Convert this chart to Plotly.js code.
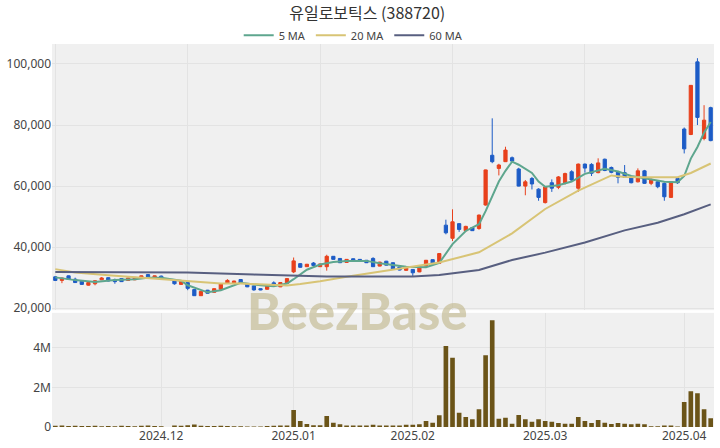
<!DOCTYPE html>
<html>
<head>
<meta charset="utf-8">
<script src="https://cdn.plot.ly/plotly-3.0.1.min.js"></script>
<style>html,body{margin:0;padding:0;background:#fff;}#chart{width:720px;height:448px;}</style>
</head>
<body>
<div id="chart"></div>
<script>
const dates = [
"2024-11-08","2024-11-11","2024-11-12","2024-11-13","2024-11-14","2024-11-15","2024-11-18","2024-11-19","2024-11-20","2024-11-21",
"2024-11-22","2024-11-25","2024-11-26","2024-11-27","2024-11-28","2024-11-29","2024-12-02","2024-12-03","2024-12-04","2024-12-05",
"2024-12-06","2024-12-09","2024-12-10","2024-12-11","2024-12-12","2024-12-13","2024-12-16","2024-12-17","2024-12-18","2024-12-19",
"2024-12-20","2024-12-23","2024-12-24","2024-12-26","2024-12-27","2024-12-30","2025-01-02","2025-01-03","2025-01-06","2025-01-07",
"2025-01-08","2025-01-09","2025-01-10","2025-01-13","2025-01-14","2025-01-15","2025-01-16","2025-01-17","2025-01-20","2025-01-21",
"2025-01-22","2025-01-23","2025-01-24","2025-01-31","2025-02-03","2025-02-04","2025-02-05","2025-02-06","2025-02-07","2025-02-10",
"2025-02-11","2025-02-12","2025-02-13","2025-02-14","2025-02-17","2025-02-18","2025-02-19","2025-02-20","2025-02-21","2025-02-24",
"2025-02-25","2025-02-26","2025-02-27","2025-02-28","2025-03-03","2025-03-04","2025-03-05","2025-03-06","2025-03-07","2025-03-10",
"2025-03-11","2025-03-12","2025-03-13","2025-03-14","2025-03-17","2025-03-18","2025-03-19","2025-03-20","2025-03-21","2025-03-24",
"2025-03-25","2025-03-26","2025-03-27","2025-03-28","2025-03-31","2025-04-01","2025-04-02","2025-04-03","2025-04-04","2025-04-07"];

const openP = [30270,29100,30600,29500,28850,27550,28000,29300,30000,29300,
29700,29100,29300,29750,31000,29800,30500,null,29000,27800,
28400,26100,24100,25900,25200,26200,28100,28200,29400,28100,
27300,26400,26200,28300,27000,28100,31900,34600,33600,34800,
33600,33600,37000,36300,35000,36200,36000,35700,36300,33800,
35400,34900,33500,32400,32700,31900,33800,35900,34700,47200,
42900,47700,45400,46400,46100,53800,70100,65800,68000,69300,
65600,60000,62500,59000,54600,61100,59600,60900,64700,59300,
67200,67100,64400,68800,66100,64700,64400,63000,61400,65000,
60900,61400,60900,56300,62500,78700,76900,100700,75600,85700];
const highP = [30500,30000,30700,30000,28900,28500,29100,30200,30100,29700,
29800,30000,30200,30700,31200,30700,30700,null,29100,28900,
28500,26200,25600,26000,26500,28100,29500,29000,29500,28200,
27400,26500,27300,28800,28500,29800,36600,34800,34500,35100,
34600,37500,37100,36400,36100,36300,36100,35800,36700,35200,
35500,35000,33600,33300,32800,33800,35800,36000,38000,49000,
52400,47900,47000,46500,50700,65400,82200,67300,72900,69700,
66000,62000,63000,59300,59900,62200,63300,64400,65200,67400,
67400,67500,69100,69000,66400,65000,66900,63300,65800,65300,
62500,62000,61200,61600,62800,79200,93100,101900,86500,86000];
const lowP = [28900,28200,29300,28300,27700,27400,27500,29200,28800,28000,
28600,29000,29200,29700,29900,29700,29400,null,27700,27700,
25900,24000,24000,24800,25100,26100,28000,28100,28100,26900,
25700,25900,26100,27400,26900,28000,31500,33300,33500,33900,
33500,32300,35900,34800,34900,35300,35300,34800,33500,33700,
34000,32600,32400,32300,30500,31800,33700,34400,34600,44200,
42000,45000,45000,45300,45700,53600,67500,63500,67900,67900,
59900,57000,58900,55200,54300,58100,59000,60500,61500,58100,
64400,63300,64200,64900,64200,60900,62700,60900,61200,60700,
60300,59300,55200,56100,60700,70700,76700,80000,75000,74700];
const closeP = [29090,29900,29400,28400,27800,28400,29000,29900,28900,28700,
28700,29900,30100,30600,30000,30600,29500,null,28000,28850,
26500,24100,25500,24900,26400,28000,29100,28900,28200,27000,
26000,26000,27200,27500,28400,29700,35500,33400,34400,34000,
34500,37000,36000,34900,36000,35400,35400,34900,33600,35100,
34100,32700,32500,33200,31600,33700,35700,34500,37900,44700,
48300,45800,46800,45400,50500,65300,68000,66900,71800,68200,
60000,61400,60700,56300,59700,59300,63000,64100,62000,67200,
65900,64200,67600,65100,64500,62900,62900,61100,65000,60900,
62200,59800,56500,61400,61100,72200,93000,82500,81600,74900];
const volume = [60000,70000,50000,60000,50000,50000,60000,40000,50000,40000,
60000,50000,40000,60000,70000,50000,40000,null,70000,60000,
90000,130000,60000,50000,50000,60000,50000,40000,40000,30000,
30000,30000,50000,60000,70000,70000,860000,300000,150000,90000,
90000,560000,220000,140000,80000,70000,70000,80000,110000,80000,
70000,70000,80000,110000,110000,140000,300000,220000,590000,4080000,
3490000,720000,500000,390000,890000,3610000,5380000,420000,470000,170000,
600000,390000,270000,390000,300000,270000,200000,170000,170000,500000,
300000,200000,350000,220000,150000,200000,170000,135000,170000,135000,
35000,35000,70000,70000,20000,1260000,1800000,1700000,890000,440000];

// moving averages at their visible vertices
const ma5Idx = [0,3,6,9,12,14,16,19,20,22,23,25,28,31,33,35,36,38,40,42,44,47,49,53,56,58,59,60,62,63,64,65,67,68,69,70,72,73,74,76,78,80,83,85,87,89,92,94,95,96,97,98,99];
const ma5Val = [30100,29200,28600,29200,29500,29950,29950,29000,27500,25900,25200,25900,28300,27500,27200,28100,29500,32600,34300,35100,35500,35500,34700,33600,33400,34800,38000,41000,45300,46500,47500,51800,61500,65000,68000,67000,64300,61500,59800,60300,61500,64000,65700,64800,63300,62600,61400,61300,63300,69000,72800,77500,81000];
const ma20Idx = [0,3,8,13,18,22,25,28,33,35,37,40,44,50,54,58,64,69,74,79,84,86,89,94,96,99];
const ma20Val = [32800,31700,30800,30000,29400,28600,28100,28100,27600,27400,27900,28800,30300,32300,33500,35000,38300,44500,52500,58500,63500,63000,62900,62900,64300,67400];
const ma60Idx = [0,20,30,36,41,54,58,64,69,74,80,86,91,95,99];
const ma60Val = [31900,31700,31000,30700,30400,30400,30900,32500,35800,38200,41500,45500,48000,50800,54000];

const monthTickDates = ["2024-12-02","2025-01-02","2025-02-03","2025-03-03","2025-04-01"];
const monthTickText = ["2024.12","2025.01","2025.02","2025.03","2025.04"];
const priceTicks = [20000,40000,60000,80000,100000];
const volTicks = [0,2000000,4000000];
const volTickText = ["0","2M","4M"];

const UP = "#e8401c", DOWN = "#1d5cc6";
const pick = idx => idx.map(i => dates[i]);

const traces = [
  {type:"candlestick", x:dates, open:openP, high:highP, low:lowP, close:closeP,
   xaxis:"x", yaxis:"y", showlegend:false, hoverinfo:"skip",
   increasing:{line:{color:UP,width:1}, fillcolor:UP},
   decreasing:{line:{color:DOWN,width:1}, fillcolor:DOWN}, whiskerwidth:0},
  {type:"scatter", mode:"lines", name:"5 MA", x:pick(ma5Idx), y:ma5Val, xaxis:"x", yaxis:"y",
   line:{color:"#5ea68e", width:2}},
  {type:"scatter", mode:"lines", name:"20 MA", x:pick(ma20Idx), y:ma20Val, xaxis:"x", yaxis:"y",
   line:{color:"#d8c475", width:2}},
  {type:"scatter", mode:"lines", name:"60 MA", x:pick(ma60Idx), y:ma60Val, xaxis:"x", yaxis:"y",
   line:{color:"#585f80", width:2}},
  {type:"bar", x:dates, y:volume, xaxis:"x2", yaxis:"y2", showlegend:false,
   marker:{color:"#6b5418"}, hoverinfo:"skip"}
];

const grid = "#e3e3e3";
const layout = {
  width:720, height:448,
  margin:{l:52, r:6, t:44, b:21},
  paper_bgcolor:"#ffffff", plot_bgcolor:"#f0f0f0",
  font:{family:"Noto Sans, sans-serif", size:12, color:"#444"},
  title:{text:"유일로보틱스 (388720)", x:0.51, xanchor:"center", y:0.97, yanchor:"middle",
         font:{family:"Noto Sans CJK KR", size:16, color:"#333"}},
  showlegend:true,
  legend:{orientation:"h", x:0.455, xanchor:"center", y:0.985, yanchor:"bottom",
          font:{size:11, color:"#444"}, bgcolor:"rgba(0,0,0,0)", itemwidth:30, tracegroupgap:0},
  bargap:0.3,
  xaxis:{type:"category", categoryorder:"array", categoryarray:dates, anchor:"y",
         domain:[0,1], range:[-0.5,99.5], rangeslider:{visible:false},
         showticklabels:false, ticks:"", tickvals:[dates[0],dates[20],dates[40],dates[60],dates[80]],
         showgrid:true, gridcolor:grid, zeroline:false, showline:false},
  yaxis:{domain:[0.305,1], range:[19350,106550], tickvals:priceTicks, tickformat:",d",
         showgrid:true, gridcolor:grid, zeroline:false, ticks:"", tickfont:{size:12,color:"#444"}},
  xaxis2:{type:"category", categoryorder:"array", categoryarray:dates, anchor:"y2",
          domain:[0,1], range:[-0.5,99.5], tickvals:monthTickDates, ticktext:monthTickText,
          showgrid:true, gridcolor:grid, zeroline:false, ticks:"", tickfont:{size:12,color:"#444"}},
  yaxis2:{domain:[0,0.298], range:[0,5750000], tickvals:volTicks, ticktext:volTickText,
          showgrid:true, gridcolor:grid, zeroline:false, ticks:"", tickfont:{size:12,color:"#444"}},
  annotations:[{text:"BeezBase", xref:"paper", yref:"paper", x:0.462, y:0.305,
    xanchor:"center", yanchor:"middle", showarrow:false,
    font:{family:"Lato, Noto Sans, sans-serif", size:51, color:"rgba(190,180,135,0.6)", weight:900}}]
};

Plotly.newPlot("chart", traces, layout, {displayModeBar:false, staticPlot:true});
</script>
</body>
</html>
